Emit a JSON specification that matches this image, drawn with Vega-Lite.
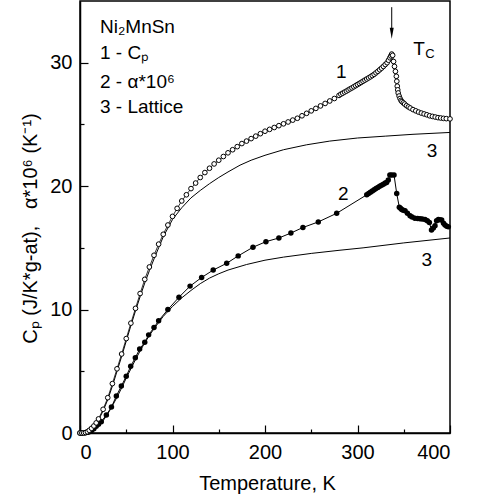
{
  "$schema": "https://vega.github.io/schema/vega-lite/v6.json",
  "width": 370,
  "height": 432,
  "autosize": {"type": "none"},
  "padding": {"left": 80, "top": 1, "right": 27, "bottom": 71},
  "config": {
    "font": "Liberation Sans",
    "view": {"stroke": "black", "strokeWidth": 1.5},
    "axis": {"grid": false, "domainColor": "black", "domainWidth": 1.5, "tickColor": "black", "tickWidth": 1.2, "labelColor": "black", "titleColor": "black", "labelFontSize": 20, "titleFontSize": 20, "titleFontWeight": "normal", "labelFont": "Liberation Sans", "titleFont": "Liberation Sans"}
  },
  "datasets": {
    "cp": [
      {"T":0,"v":0},{"T":2,"v":0},{"T":4,"v":0.01},{"T":6,"v":0.04},{"T":8,"v":0.1},{"T":10,"v":0.22},{"T":12.5,"v":0.38},{"T":15,"v":0.57},{"T":17.5,"v":0.82},{"T":20,"v":1.14},
      {"T":25,"v":1.92},{"T":30,"v":2.86},{"T":35,"v":4.0},{"T":40,"v":5.2},{"T":45,"v":6.4},{"T":50,"v":7.65},{"T":55,"v":8.9},{"T":60,"v":10.1},{"T":65,"v":11.3},{"T":70,"v":12.45},
      {"T":75,"v":13.45},{"T":80,"v":14.4},{"T":85,"v":15.3},{"T":90,"v":16.1},{"T":95,"v":16.85},{"T":100,"v":17.55},{"T":105,"v":18.2},{"T":110,"v":18.8},{"T":115,"v":19.3},{"T":120,"v":19.8},
      {"T":125,"v":20.25},{"T":130,"v":20.7},{"T":135,"v":21.1},{"T":140,"v":21.45},{"T":145,"v":21.8},{"T":150,"v":22.1},{"T":155,"v":22.4},{"T":160,"v":22.7},{"T":165,"v":22.95},{"T":170,"v":23.2},
      {"T":175,"v":23.45},{"T":180,"v":23.65},{"T":185,"v":23.85},{"T":190,"v":24.05},{"T":195,"v":24.25},{"T":200,"v":24.45},{"T":205,"v":24.6},{"T":210,"v":24.75},{"T":215,"v":24.9},{"T":220,"v":25.05},
      {"T":225,"v":25.2},{"T":230,"v":25.35},{"T":235,"v":25.5},{"T":240,"v":25.7},{"T":245,"v":25.9},{"T":250,"v":26.1},{"T":255,"v":26.3},{"T":260,"v":26.5},{"T":265,"v":26.7},{"T":270,"v":26.9},
      {"T":275,"v":27.1},{"T":280,"v":27.35},{"T":282,"v":27.45},{"T":284,"v":27.53},{"T":286,"v":27.62},{"T":288,"v":27.7},{"T":290,"v":27.79},{"T":292,"v":27.88},{"T":294,"v":27.96},{"T":296,"v":28.05},
      {"T":298,"v":28.14},{"T":300,"v":28.23},{"T":302,"v":28.32},{"T":304,"v":28.41},{"T":306,"v":28.5},{"T":308,"v":28.59},{"T":310,"v":28.68},{"T":312,"v":28.77},{"T":314,"v":28.86},{"T":316,"v":28.96},
      {"T":318,"v":29.06},{"T":320,"v":29.18},{"T":322,"v":29.3},{"T":324,"v":29.43},{"T":326,"v":29.56},{"T":328,"v":29.7},{"T":330,"v":29.85},{"T":332,"v":30.0},{"T":333.5,"v":30.2},{"T":335,"v":30.4},
      {"T":336,"v":30.55},{"T":337,"v":30.7},{"T":338,"v":30.6},{"T":339,"v":30.1},{"T":340,"v":29.7},{"T":341,"v":29.3},{"T":342,"v":28.9},{"T":342.5,"v":28.5},{"T":343,"v":28.1},{"T":343.5,"v":27.8},
      {"T":344,"v":27.55},{"T":345,"v":27.3},{"T":346,"v":27.1},{"T":347,"v":26.95},{"T":348,"v":26.85},{"T":349.5,"v":26.75},{"T":351,"v":26.65},{"T":353,"v":26.52},{"T":355,"v":26.42},{"T":357,"v":26.33},
      {"T":360,"v":26.2},{"T":363,"v":26.1},{"T":366,"v":26.0},{"T":369,"v":25.92},{"T":372,"v":25.85},{"T":375,"v":25.78},{"T":378,"v":25.7},{"T":381,"v":25.65},{"T":384,"v":25.6},{"T":387,"v":25.55},
      {"T":390,"v":25.52},{"T":393,"v":25.49},{"T":396,"v":25.47},{"T":400,"v":25.45}
    ],
    "alpha": [
      {"T":0,"v":0},{"T":2,"v":0},{"T":4,"v":0.01},{"T":6,"v":0.02},{"T":8,"v":0.05},{"T":10,"v":0.1},{"T":12.5,"v":0.2},{"T":15,"v":0.35},{"T":17.5,"v":0.55},{"T":20,"v":0.7},
      {"T":23,"v":0.92},{"T":28.5,"v":1.46},{"T":34,"v":2.1},{"T":39.3,"v":3.0},{"T":44.7,"v":3.8},{"T":50,"v":4.6},{"T":54.8,"v":5.4},{"T":59.8,"v":6.1},{"T":64.5,"v":6.8},{"T":70,"v":7.35},
      {"T":74.2,"v":7.95},{"T":80,"v":8.54},{"T":85,"v":9.1},{"T":95,"v":10.0},{"T":107,"v":11.0},{"T":119,"v":11.9},{"T":131.5,"v":12.6},{"T":144,"v":13.2},{"T":158.6,"v":13.75},{"T":171,"v":14.35},
      {"T":187,"v":15.05},{"T":201,"v":15.5},{"T":215,"v":15.8},{"T":228,"v":16.2},{"T":241,"v":16.65},{"T":257.6,"v":17.1},{"T":277.5,"v":17.8},{"T":310,"v":19.3},{"T":312,"v":19.4},{"T":314,"v":19.5},
      {"T":316,"v":19.6},{"T":318,"v":19.7},{"T":320,"v":19.8},{"T":322,"v":19.9},{"T":324,"v":20.0},{"T":326,"v":20.08},{"T":328,"v":20.15},{"T":330,"v":20.25},{"T":331.5,"v":20.3},{"T":333.3,"v":20.5},
      {"T":335,"v":20.9},{"T":337,"v":20.9},{"T":339.5,"v":20.9},{"T":342.4,"v":19.4},{"T":345.2,"v":18.3},{"T":346.5,"v":18.2},{"T":347.8,"v":18.1},{"T":349.5,"v":18.05},{"T":351.4,"v":18.0},{"T":354,"v":17.8},
      {"T":356.8,"v":17.6},{"T":359,"v":17.5},{"T":362,"v":17.4},{"T":365,"v":17.38},{"T":367.6,"v":17.35},{"T":370,"v":17.33},{"T":373,"v":17.3},{"T":375.5,"v":17.2},{"T":377.7,"v":17.05},{"T":380,"v":16.45},
      {"T":382,"v":16.6},{"T":383.8,"v":16.8},{"T":385.5,"v":17.2},{"T":387.4,"v":17.3},{"T":389,"v":17.28},{"T":391,"v":17.25},{"T":393,"v":17.0},{"T":394.6,"v":16.85},{"T":396.5,"v":16.75},{"T":398.2,"v":16.7}
    ],
    "lattice": [
      {"s":"a","T":0,"v":0},{"s":"a","T":5,"v":0.01},{"s":"a","T":10,"v":0.15},{"s":"a","T":15,"v":0.5},{"s":"a","T":20,"v":1.05},{"s":"a","T":25,"v":1.8},{"s":"a","T":30,"v":2.7},{"s":"a","T":35,"v":3.8},
      {"s":"a","T":40,"v":5.0},{"s":"a","T":45,"v":6.2},{"s":"a","T":50,"v":7.45},{"s":"a","T":55,"v":8.7},{"s":"a","T":60,"v":9.9},{"s":"a","T":65,"v":11.05},{"s":"a","T":70,"v":12.15},{"s":"a","T":75,"v":13.15},
      {"s":"a","T":80,"v":14.1},{"s":"a","T":85,"v":15.0},{"s":"a","T":90,"v":15.9},{"s":"a","T":95,"v":16.6},{"s":"a","T":100,"v":17.3},{"s":"a","T":110,"v":18.25},{"s":"a","T":120,"v":19.05},{"s":"a","T":130,"v":19.65},
      {"s":"a","T":140,"v":20.2},{"s":"a","T":150,"v":20.7},{"s":"a","T":160,"v":21.15},{"s":"a","T":173,"v":21.7},{"s":"a","T":185,"v":22.1},{"s":"a","T":200,"v":22.5},{"s":"a","T":220,"v":22.95},{"s":"a","T":245,"v":23.35},
      {"s":"a","T":270,"v":23.65},{"s":"a","T":300,"v":23.9},{"s":"a","T":330,"v":24.05},{"s":"a","T":360,"v":24.2},{"s":"a","T":400,"v":24.35},
      {"s":"b","T":0,"v":0},{"s":"b","T":5,"v":0.01},{"s":"b","T":10,"v":0.08},{"s":"b","T":15,"v":0.3},{"s":"b","T":20,"v":0.6},{"s":"b","T":25,"v":1.0},{"s":"b","T":30,"v":1.55},{"s":"b","T":35,"v":2.2},
      {"s":"b","T":40,"v":2.9},{"s":"b","T":45,"v":3.65},{"s":"b","T":50,"v":4.45},{"s":"b","T":55,"v":5.2},{"s":"b","T":60,"v":5.95},{"s":"b","T":65,"v":6.65},{"s":"b","T":70,"v":7.3},{"s":"b","T":75,"v":7.9},
      {"s":"b","T":80,"v":8.45},{"s":"b","T":90,"v":9.45},{"s":"b","T":100,"v":10.25},{"s":"b","T":110,"v":10.95},{"s":"b","T":120,"v":11.55},{"s":"b","T":130,"v":12.1},{"s":"b","T":140,"v":12.55},{"s":"b","T":150,"v":12.9},
      {"s":"b","T":160,"v":13.2},{"s":"b","T":180,"v":13.65},{"s":"b","T":200,"v":14.0},{"s":"b","T":220,"v":14.25},{"s":"b","T":250,"v":14.55},{"s":"b","T":280,"v":14.8},{"s":"b","T":306,"v":15.0},{"s":"b","T":350,"v":15.4},{"s":"b","T":400,"v":15.8}
    ],
    "labels": [
      {"k":"legend","T":21.6,"v":32.41,"t":"Ni₂MnSn"},
      {"k":"legend","T":21.6,"v":30.3,"t":"1 - Cₚ"},
      {"k":"legend","T":21.6,"v":27.95,"t":"2 - α*10⁶"},
      {"k":"legend","T":21.6,"v":25.92,"t":"3 - Lattice"},
      {"k":"curve","T":282.5,"v":28.76,"t":"1"},
      {"k":"curve","T":284.7,"v":18.9,"t":"2"},
      {"k":"curve","T":380.5,"v":22.35,"t":"3"},
      {"k":"curve","T":375,"v":13.49,"t":"3"},
      {"k":"curve","T":366.6,"v":30.65,"t":"T"},
      {"k":"sub","T":378.4,"v":30.42,"t":"C"}
    ],
    "arrow": [{"T":337,"v":34.5,"v2":32.6}],
    "arrowhead": [{"T":337,"v":32.39}]
  },
  "layer": [
    {
      "data": {"name": "lattice"},
      "mark": {"type": "line", "color": "black", "strokeWidth": 1},
      "encoding": {
        "x": {"field": "T", "type": "quantitative", "scale": {"domain": [0, 400], "nice": false},
          "axis": {"values": [0,50,100,150,200,250,300,350,400], "labelExpr": "datum.value % 100 ? '' : datum.label",
            "tickSize": {"condition": {"test": "datum.value % 100 === 0", "value": -8}, "value": -4},
            "labelPadding": 17, "title": "Temperature, K", "titleX": 187, "titleY": 56, "titleAlign": "center", "titleBaseline": "alphabetic"}},
        "y": {"field": "v", "type": "quantitative", "scale": {"domain": [0, 35], "nice": false},
          "axis": {"values": [0,5,10,15,20,25,30], "labelExpr": "datum.value % 10 ? '' : datum.label",
            "tickSize": {"condition": {"test": "datum.value % 10 === 0", "value": -8}, "value": -4},
            "labelPadding": 16, "title": "Cₚ (J/K*g-at),\u00a0\u00a0\u00a0α*10⁶ (K⁻¹)", "titleX": -44, "titleY": 227, "titleAngle": -90, "titleAlign": "center", "titleBaseline": "alphabetic"}},
        "detail": {"field": "s"}
      }
    },
    {
      "data": {"name": "alpha"},
      "mark": {"type": "line", "color": "black", "strokeWidth": 1},
      "encoding": {"x": {"field": "T", "type": "quantitative"}, "y": {"field": "v", "type": "quantitative"}}
    },
    {
      "data": {"name": "alpha"},
      "mark": {"type": "point", "filled": true, "color": "black", "size": 30, "opacity": 1},
      "encoding": {"x": {"field": "T", "type": "quantitative"}, "y": {"field": "v", "type": "quantitative"}}
    },
    {
      "data": {"name": "cp"},
      "mark": {"type": "line", "color": "black", "strokeWidth": 0.8},
      "encoding": {"x": {"field": "T", "type": "quantitative"}, "y": {"field": "v", "type": "quantitative"}}
    },
    {
      "data": {"name": "cp"},
      "mark": {"type": "point", "shape": "circle", "fill": "white", "stroke": "black", "strokeWidth": 1, "size": 22, "opacity": 1, "fillOpacity": 1},
      "encoding": {"x": {"field": "T", "type": "quantitative"}, "y": {"field": "v", "type": "quantitative"}}
    },
    {
      "data": {"name": "arrow"},
      "mark": {"type": "rule", "color": "black", "strokeWidth": 1},
      "encoding": {"x": {"field": "T", "type": "quantitative"}, "y": {"field": "v", "type": "quantitative"}, "y2": {"field": "v2"}}
    },
    {
      "data": {"name": "arrowhead"},
      "mark": {"type": "point", "shape": "M-0.36,-1L0.36,-1L0,1Z", "filled": true, "color": "black", "size": 121, "opacity": 1},
      "encoding": {"x": {"field": "T", "type": "quantitative"}, "y": {"field": "v", "type": "quantitative"}}
    },
    {
      "data": {"name": "labels"},
      "transform": [{"filter": "datum.k === 'legend'"}],
      "mark": {"type": "text", "align": "left", "baseline": "alphabetic", "fontSize": 19, "color": "black"},
      "encoding": {"x": {"field": "T", "type": "quantitative"}, "y": {"field": "v", "type": "quantitative"}, "text": {"field": "t"}}
    },
    {
      "data": {"name": "labels"},
      "transform": [{"filter": "datum.k === 'curve'"}],
      "mark": {"type": "text", "align": "center", "baseline": "alphabetic", "fontSize": 19, "color": "black"},
      "encoding": {"x": {"field": "T", "type": "quantitative"}, "y": {"field": "v", "type": "quantitative"}, "text": {"field": "t"}}
    },
    {
      "data": {"name": "labels"},
      "transform": [{"filter": "datum.k === 'sub'"}],
      "mark": {"type": "text", "align": "center", "baseline": "alphabetic", "fontSize": 13, "color": "black"},
      "encoding": {"x": {"field": "T", "type": "quantitative"}, "y": {"field": "v", "type": "quantitative"}, "text": {"field": "t"}}
    }
  ]
}
